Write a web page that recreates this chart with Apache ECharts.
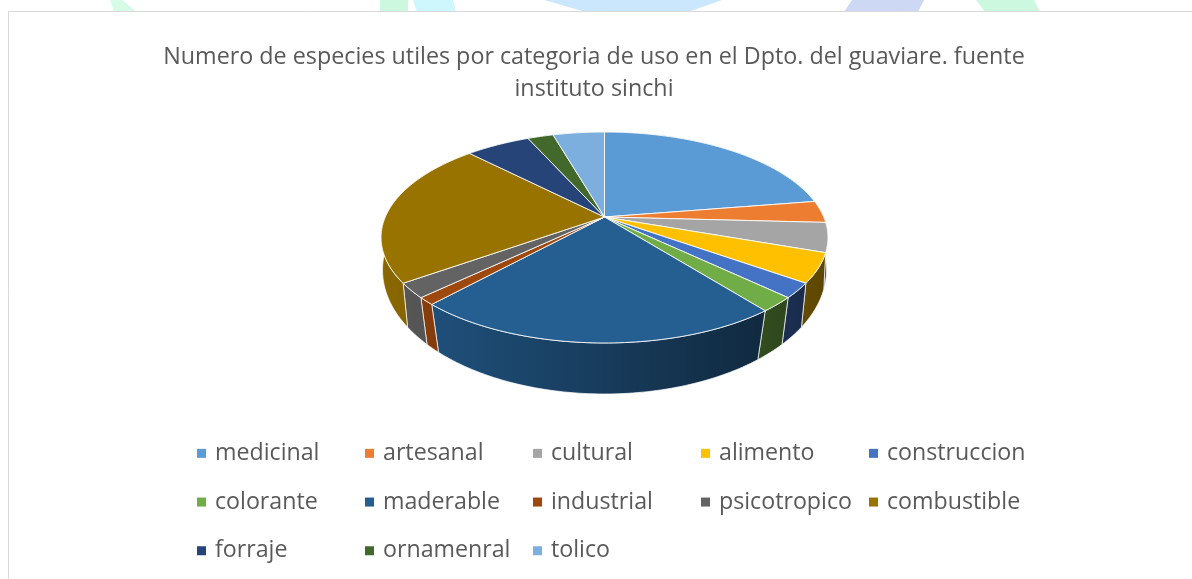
<!DOCTYPE html>
<html>
<head>
<meta charset="utf-8">
<title>Especies utiles</title>
<script src="https://cdn.jsdelivr.net/npm/echarts@6/dist/echarts.min.js"></script>
<style>
    html,body{margin:0;padding:0;background:#fff;}
    #chart{width:1192px;height:579px;}
</style>
</head>
<body>
<div id="chart"></div>
<script type="text/javascript">
var categories = ['medicinal','artesanal','cultural','alimento','construccion','colorante','maderable','industrial','psicotropico','combustible','forraje','ornamenral','tolico'];
var values = [20,3,4,4,2,2,20,1,2,20,5,2,4];
var colors = ['#5B9BD5','#ED7D31','#A5A5A5','#FFC000','#4472C4','#70AD47','#255E91','#9E480E','#636363','#997300','#264478','#43682B','#7CAFDD'];
var titleText = 'Numero de especies utiles por categoria de uso en el Dpto. del guaviare. fuente\ninstituto sinchi';

var total = 0;
for (var i = 0; i < values.length; i++) { total += values[i]; }

// proyeccion del disco (perspectiva)
var cx = 604.5, cy = 217, ax = 219.2, by = 101.5, k = 0.1943;

function topPoint(a) {
    var d = 1 + k * Math.cos(a);
    return [cx + ax * Math.sin(a) / d, cy - by * Math.cos(a) / d];
}
// borde inferior: otra elipse, un poco mas baja y mas alta que la de arriba
function bottomPoint(a) {
    var p = topPoint(a);
    var dx = (p[0] - cx) / 223.5, dy = (p[1] - 237.5) / 105.5;
    var t = Math.atan2(dy, Math.abs(dx));
    t = t + 0.04 * Math.sin(2 * t);
    var sign = dx < 0 ? -1 : 1;
    return [cx + sign * 222 * Math.cos(t), 270 + 124 * Math.sin(t)];
}
function arc(a0, a1, fn) {
    var n = Math.max(2, Math.ceil((a1 - a0) / 0.02));
    var pts = [];
    for (var i = 0; i <= n; i++) { pts.push(fn(a0 + (a1 - a0) * i / n)); }
    return pts;
}
// la pared se oscurece de izquierda a derecha
function shade(color, x) {
    var f = 0.9 - 0.53 * (x - 385) / (820 - 385);
    f = Math.max(0.35, Math.min(0.9, f));
    var r = parseInt(color.substr(1,2),16), g = parseInt(color.substr(3,2),16), b = parseInt(color.substr(5,2),16);
    return 'rgb(' + Math.round(r*f) + ',' + Math.round(g*f) + ',' + Math.round(b*f) + ')';
}

function renderSlice(params, api) {
    var start = api.value(0), val = api.value(1);
    var a0 = start / total * Math.PI * 2, a1 = (start + val) / total * Math.PI * 2;
    var color = colors[params.seriesIndex];
    var top = arc(a0, a1, topPoint);
    var bottom = arc(a0, a1, bottomPoint);
    var wall = top.concat(bottom.slice().reverse());
    var minX = Infinity, maxX = -Infinity;
    for (var i = 0; i < wall.length; i++) {
        minX = Math.min(minX, wall[i][0]);
        maxX = Math.max(maxX, wall[i][0]);
    }
    var stops = [];
    for (var s = 0; s <= 4; s++) {
        stops.push({offset: s / 4, color: shade(color, minX + (maxX - minX) * s / 4)});
    }
    return {
        type: 'group',
        children: [{
            type: 'polygon',
            z2: 1,
            shape: {points: wall},
            style: {
                fill: new echarts.graphic.LinearGradient(0, 0, 1, 0, stops),
                stroke: 'rgba(255,255,255,0.7)',
                lineWidth: 1
            }
        }, {
            type: 'polygon',
            z2: 2,
            shape: {points: [[cx, cy]].concat(top)},
            style: {fill: color, stroke: 'rgba(255,255,255,0.85)', lineWidth: 1}
        }]
    };
}

var series = [];
var acc = 0;
for (var j = 0; j < categories.length; j++) {
    series.push({
        type: 'custom',
        name: categories[j],
        coordinateSystem: 'none',
        silent: true,
        animation: false,
        itemStyle: {color: colors[j]},
        renderItem: renderSlice,
        data: [[acc, values[j]]]
    });
    acc += values[j];
}

var chart = echarts.init(document.getElementById('chart'));
chart.setOption({
    animation: false,
    backgroundColor: '#fff',
    title: {
        text: titleText,
        left: 589,
        top: 36,
        textAlign: 'center',
        textStyle: {
            fontFamily: 'Open Sans',
            fontSize: 23.3,
            fontWeight: 'normal',
            color: '#595959',
            lineHeight: 32
        }
    },
    legend: {
        data: categories,
        left: 197,
        top: 429,
        width: 850,
        padding: 0,
        itemWidth: 9,
        itemHeight: 9,
        itemGap: 0,
        icon: 'rect',
        selectedMode: false,
        textStyle: {
            fontFamily: 'Open Sans',
            fontSize: 23.2,
            color: '#595959',
            width: 150,
            lineHeight: 48.7,
            height: 48.7,
            overflow: 'none',
            padding: [0, 0, 0, 4]
        }
    },
    graphic: [
        // fondo de la pagina detras del grafico
        {type: 'polygon', silent: true, shape: {points: [[110,0],[122,0],[137,12],[114,12]]}, style: {fill: '#d6fbe6'}},
        {type: 'polygon', silent: true, shape: {points: [[380,0],[408,0],[408,12],[380,12]]}, style: {fill: '#cdf8e0'}},
        {type: 'polygon', silent: true, shape: {points: [[413,0],[453,0],[456,12],[417,12]]}, style: {fill: '#cdf6fd'}},
        {type: 'polygon', silent: true, shape: {points: [[544,0],[722,0],[688,12],[586,12]]}, style: {fill: '#cbe7fd'}},
        {type: 'polygon', silent: true, shape: {points: [[852,0],[924,0],[918,12],[844,12]]}, style: {fill: '#cdd8f5'}},
        {type: 'polygon', silent: true, shape: {points: [[976,0],[1034,0],[1040,12],[985,12]]}, style: {fill: '#cdf8e0'}},
        {type: 'rect', silent: true, shape: {x: 8.5, y: 11.5, width: 1300, height: 700}, style: {fill: '#fff', stroke: '#d9d9d9', lineWidth: 1}}
    ],
    series: series
});
</script>
</body>
</html>
